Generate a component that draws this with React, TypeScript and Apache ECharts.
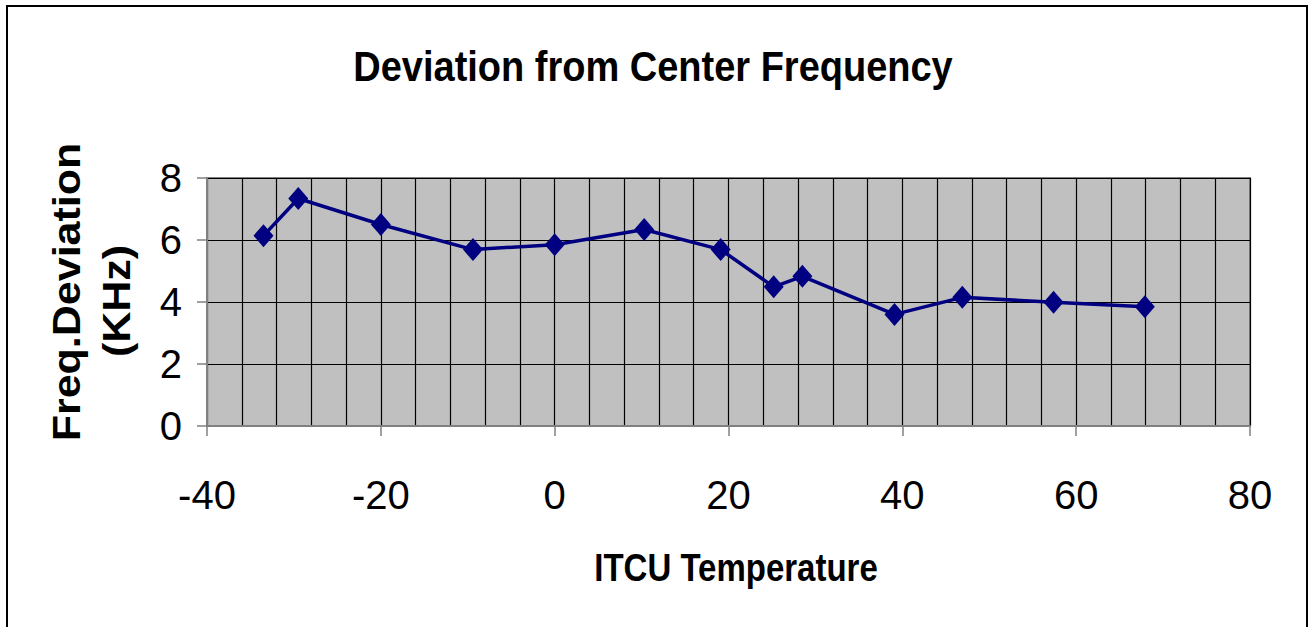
import React, { useEffect, useRef } from "react";
import * as echarts from "echarts";

const temperatures = [-33.5, -29.5, -20, -9.4, 0, 10.3, 19.1, 25.2, 28.5, 39.1, 46.9, 57.4, 67.9];
const deviations = [6.14, 7.34, 6.5, 5.69, 5.85, 6.34, 5.69, 4.49, 4.83, 3.6, 4.15, 3.99, 3.85];

const titleText = "Deviation from Center Frequency";
const xName = "ITCU Temperature";
const yNameLines = ["Freq.Deviation", "(KHz)"];

const FONT = '"Liberation Sans", Arial, Helvetica, sans-serif';

export default function App() {
  const ref = useRef<HTMLDivElement>(null);

  useEffect(() => {
    if (!ref.current) return;
    const chart = echarts.init(ref.current, undefined, { renderer: "svg" });
    const data = temperatures.map((t, i) => [t, deviations[i]]);
    const option: any = {
      animation: false,
      backgroundColor: "#ffffff",
      grid: {
        left: 207,
        right: 63,
        top: 178,
        bottom: 201,
        show: true,
        backgroundColor: "#c0c0c0",
        borderColor: "#808080",
        borderWidth: 2,
      },
      xAxis: {
        type: "value",
        min: -40,
        max: 80,
        interval: 20,
        axisLine: { show: true, onZero: false, lineStyle: { color: "#808080", width: 2 } },
        axisTick: { show: true, length: 10, inside: false, lineStyle: { color: "#808080", width: 1.5 } },
        axisLabel: { fontSize: 40, color: "#000", fontFamily: FONT, margin: 49 },
        splitLine: { show: true, lineStyle: { color: "#000", width: 1.2 } },
        minorTick: { show: false, splitNumber: 5 },
        minorSplitLine: { show: true, lineStyle: { color: "#000", width: 1.2 } },
      },
      yAxis: {
        type: "value",
        min: 0,
        max: 8,
        interval: 2,
        axisLine: { show: true, onZero: false, lineStyle: { color: "#808080", width: 2 } },
        axisTick: { show: true, length: 10, inside: false, lineStyle: { color: "#808080", width: 1.5 } },
        axisLabel: { fontSize: 40, color: "#000", fontFamily: FONT, margin: 25 },
        splitLine: { show: true, lineStyle: { color: "#000", width: 1.2 } },
      },
      graphic: [
        {
          type: "rect",
          z: 100,
          shape: { x: 7, y: 6, width: 1300, height: 700 },
          style: { fill: "none", stroke: "#000", lineWidth: 2 },
          silent: true,
        },
        {
          type: "text",
          x: 653,
          y: 66,
          scaleY: 1.13,
          style: {
            text: titleText,
            fontSize: 38,
            fontWeight: "bold",
            fontFamily: FONT,
            font: `bold 38px ${FONT}`,
            fill: "#000",
            textAlign: "center",
            textVerticalAlign: "middle",
            align: "center",
            verticalAlign: "middle",
          },
        },
        {
          type: "text",
          x: 736,
          y: 568,
          scaleY: 1.18,
          style: {
            text: xName,
            fontSize: 33,
            fontWeight: "bold",
            fontFamily: FONT,
            font: `bold 33px ${FONT}`,
            fill: "#000",
            textAlign: "center",
            textVerticalAlign: "middle",
            align: "center",
            verticalAlign: "middle",
          },
        },
        {
          type: "text",
          x: 67,
          y: 292,
          rotation: Math.PI / 2,
          scaleY: 0.9,
          style: {
            text: yNameLines[0],
            fontSize: 43,
            fontWeight: "bold",
            fontFamily: FONT,
            font: `bold 43px ${FONT}`,
            fill: "#000",
            textAlign: "center",
            textVerticalAlign: "middle",
            align: "center",
            verticalAlign: "middle",
          },
        },
        {
          type: "text",
          x: 117,
          y: 301,
          rotation: Math.PI / 2,
          scaleY: 0.9,
          style: {
            text: yNameLines[1],
            fontSize: 43,
            fontWeight: "bold",
            fontFamily: FONT,
            font: `bold 43px ${FONT}`,
            fill: "#000",
            textAlign: "center",
            textVerticalAlign: "middle",
            align: "center",
            verticalAlign: "middle",
          },
        },
      ],
      series: [
        {
          type: "line",
          data,
          symbol: "diamond",
          symbolSize: [20, 23],
          clip: false,
          itemStyle: { color: "#000080" },
          lineStyle: { color: "#000080", width: 3.5 },
          z: 10,
        },
      ],
    };
    chart.setOption(option);
    return () => chart.dispose();
  }, []);

  return (
    <div
      ref={ref}
      style={{ position: "absolute", left: 0, top: 0, width: 1313, height: 627 }}
    />
  );
}
